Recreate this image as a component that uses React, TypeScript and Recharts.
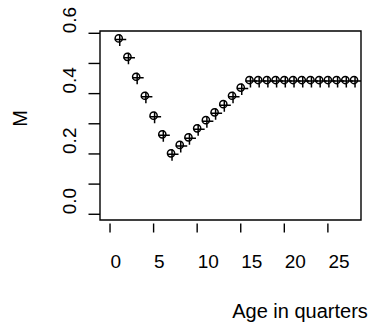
import { Label, ReferenceArea, Scatter, ScatterChart, XAxis, YAxis } from "recharts";

// Natural mortality by age (quarters)
const ages = [1, 2, 3, 4, 5, 6, 7, 8, 9, 10, 11, 12, 13, 14, 15, 16, 17, 18, 19, 20, 21, 22, 23, 24, 25, 26, 27, 28];
const mortality = [
  0.583, 0.522, 0.456, 0.393, 0.327, 0.265, 0.202, 0.23, 0.255, 0.285, 0.312, 0.338, 0.365, 0.393,
  0.42, 0.445, 0.445, 0.445, 0.445, 0.445, 0.445, 0.445, 0.445, 0.445, 0.445, 0.445, 0.445, 0.445,
];
const xTicks = [0, 5, 10, 15, 20, 25];
const yTicks = [0, 0.1, 0.2, 0.3, 0.4, 0.5, 0.6];
const yLabelled = [0, 0.2, 0.4, 0.6];

const X_DOMAIN: [number, number] = [-1.15, 28.8];
const Y_DOMAIN: [number, number] = [-0.019, 0.6076];

const FONT = '"Liberation Sans", Arial, sans-serif';
const INK = "#000";

const points = ages.map((age, i) => ({ age, m: mortality[i] }));

// open circle with a "+" laid over it, slightly down and to the right
function CirclePlus(props: any) {
  const { cx, cy } = props;
  if (cx == null || cy == null) return null;
  return (
    <g stroke={INK} strokeWidth={1.5} fill="none">
      <circle cx={cx} cy={cy} r={3.6} />
      <path d={`M${cx - 4} ${cy + 1}H${cx + 7.5}M${cx + 1} ${cy - 4}V${cy + 7.5}`} />
    </g>
  );
}

// ticks hang below the frame with a small gap; labels start at the tick
function XTick(props: any) {
  const { x, y, payload } = props;
  return (
    <g>
      <line x1={x} x2={x} y1={y + 3.5} y2={y + 12.5} stroke={INK} strokeWidth={1.4} />
      <text x={x + 0.5} y={y + 48} textAnchor="start" fontSize={19} fontFamily={FONT} fill={INK}>
        {payload.value}
      </text>
    </g>
  );
}

function YTick(props: any) {
  const { x, y, payload } = props;
  const v = payload.value;
  const show = yLabelled.some((t) => Math.abs(t - v) < 1e-6);
  return (
    <g>
      <line x1={x - 11.5} x2={x} y1={y} y2={y} stroke={INK} strokeWidth={1.4} />
      {show && (
        <text
          x={70}
          y={y}
          transform={`rotate(-90, 70, ${y})`}
          textAnchor="start"
          dominantBaseline="central"
          fontSize={19}
          fontFamily={FONT}
          fill={INK}
        >
          {v.toFixed(1)}
        </text>
      )}
    </g>
  );
}

export default function App() {
  return (
    <div style={{ position: "absolute", left: 0, top: 0, width: 371, height: 329, background: "#fff" }}>
      <ScatterChart width={371} height={329} margin={{ top: 31, right: 10, bottom: 0, left: 0 }}>
        <XAxis
          type="number"
          dataKey="age"
          domain={X_DOMAIN}
          ticks={xTicks}
          interval={0}
          allowDataOverflow
          height={109}
          axisLine={false}
          tickLine={false}
          tickSize={0}
          tickMargin={0}
          tick={<XTick />}
        >
          <Label
            content={() => (
              <text x={300} y={318} textAnchor="middle" fontSize={20} fontFamily={FONT} fill={INK}>
                Age in quarters
              </text>
            )}
          />
        </XAxis>
        <YAxis
          type="number"
          dataKey="m"
          domain={Y_DOMAIN}
          ticks={yTicks}
          interval={0}
          allowDataOverflow
          width={100}
          axisLine={false}
          tickLine={false}
          tickSize={0}
          tickMargin={0}
          tick={<YTick />}
        >
          <Label
            content={() => (
              <text
                x={20}
                y={118.5}
                transform="rotate(-90, 20, 118.5)"
                textAnchor="middle"
                dominantBaseline="central"
                fontSize={20}
                fontFamily={FONT}
                fill={INK}
              >
                M
              </text>
            )}
          />
        </YAxis>
        <ReferenceArea
          x1={X_DOMAIN[0]}
          x2={X_DOMAIN[1]}
          y1={Y_DOMAIN[0]}
          y2={Y_DOMAIN[1]}
          fill="none"
          stroke={INK}
          strokeWidth={1.4}
          ifOverflow="visible"
        />
        <Scatter data={points} shape={<CirclePlus />} isAnimationActive={false} />
      </ScatterChart>
    </div>
  );
}
